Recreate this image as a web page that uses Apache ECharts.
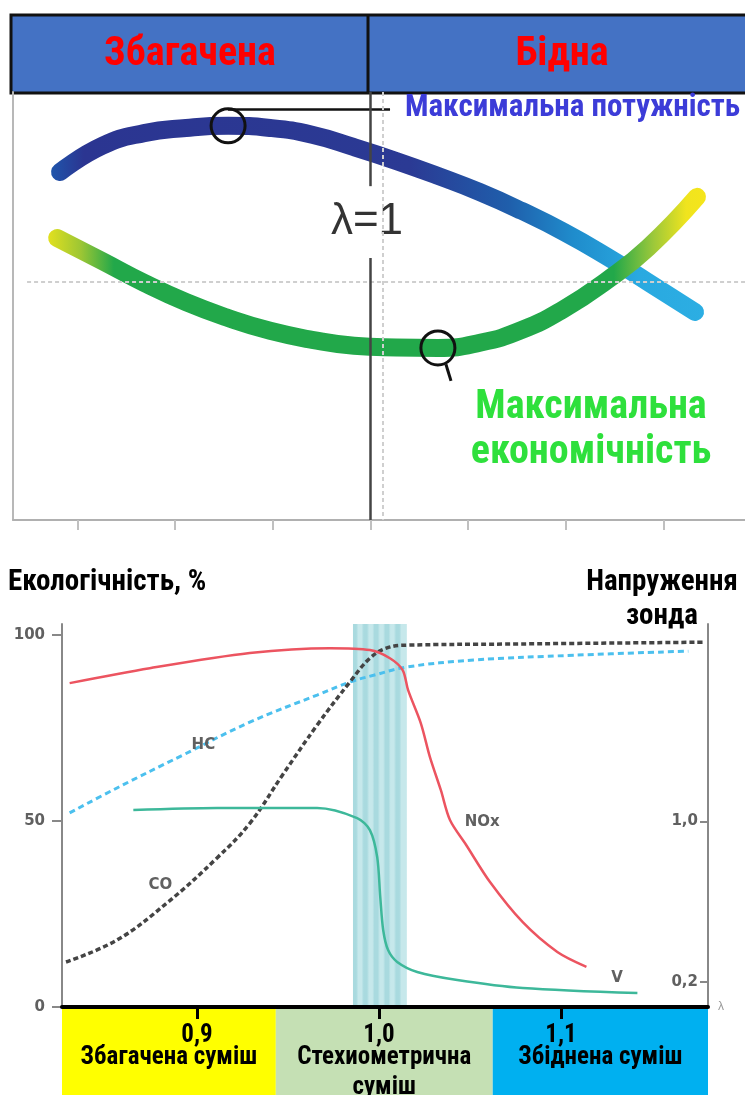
<!DOCTYPE html>
<html>
<head>
<meta charset="utf-8">
<script src="https://cdn.jsdelivr.net/npm/echarts@6/dist/echarts.min.js"></script>
<style>
html, body { margin: 0; padding: 0; background: #fff; }
#main { width: 745px; height: 1095px; }
</style>
</head>
<body>
<div id="main"></div>
<script>
// верхня схема: потужність та економічність залежно від λ
var headerLabels = ['Збагачена', 'Бідна'];
var topTicks = [0.85, 0.9, 0.95, 1.0, 1.05, 1.1, 1.15];
var powerLambda = [0.8411, 0.8626, 0.8841, 0.9056, 0.9271, 0.9486, 0.9701, 0.9916, 1.0131, 1.0345, 1.0560, 1.0775, 1.0990, 1.1205, 1.1420, 1.1661];
var powerValues = [81.3, 87.4, 90.4, 91.6, 92.1, 91.6, 90.0, 87.1, 83.9, 80.4, 76.6, 72.2, 67.3, 61.7, 55.6, 48.6];
var economyLambda = [0.8396, 0.8626, 0.8841, 0.9056, 0.9271, 0.9486, 0.9701, 0.9916, 1.0131, 1.0345, 1.0560, 1.0775, 1.0990, 1.1205, 1.1420, 1.1671];
var economyValues = [65.9, 60.5, 55.4, 50.9, 47.2, 44.2, 42.1, 40.7, 40.3, 40.2, 41.4, 44.4, 49.3, 55.8, 63.6, 75.5];

// нижній графік: екологічність, % та напруження зонда
var lambdaTicks = [0.9, 1.0, 1.1];
var percentTicks = [0, 50, 100];
var voltageTicks = [0.2, 1.0];
var stoichBand = [0.9857, 1.0153];
var zoneNames = ['Збагачена суміш', 'Стехиометрична\nсуміш', 'Збіднена суміш'];
var zoneBounds = [0.8258, 0.9433, 1.0625, 1.1808];

var noxLambda = [0.830, 0.874, 0.929, 0.973, 0.995, 1.006, 1.013, 1.016, 1.023, 1.028, 1.034, 1.039, 1.048, 1.061, 1.079, 1.098, 1.114];
var noxValues = [87.1, 91.1, 95.2, 96.5, 96.0, 93.8, 90.6, 85.2, 76.3, 67.2, 58.3, 50.3, 43.5, 33.6, 22.8, 14.8, 10.8];
var hcLambda = [0.830, 0.856, 0.892, 0.929, 0.966, 0.984, 0.997, 1.015, 1.052, 1.107, 1.170];
var hcValues = [52.2, 58.9, 67.7, 76.6, 83.9, 87.4, 89.2, 91.4, 93.3, 94.6, 95.7];
var coLambda = [0.828, 0.856, 0.884, 0.911, 0.929, 0.947, 0.966, 0.984, 0.995, 1.004, 1.015, 1.070, 1.178];
var coValues = [12.1, 18.0, 28.2, 40.1, 49.4, 62.4, 75.8, 87.4, 93.8, 96.5, 97.3, 97.6, 98.1];
var vLambda = [0.865, 0.911, 0.966, 0.988, 0.995, 0.999, 1.0007, 1.0023, 1.005, 1.010, 1.021, 1.043, 1.079, 1.142];
var vValues = [1.056, 1.066, 1.066, 1.016, 0.956, 0.822, 0.623, 0.459, 0.359, 0.300, 0.250, 0.210, 0.170, 0.145];

function pairs(xs, ys) {
    var res = [];
    for (var i = 0; i < xs.length; i++) {
        res.push([xs[i], ys[i]]);
    }
    return res;
}
function comma(v) {
    return v.toFixed(1).replace('.', ',');
}

var FONT = '"Liberation Sans Narrow", "Roboto Condensed", "Liberation Sans", sans-serif';
var GREY = '#606060';

var myChart = echarts.init(document.getElementById('main'));

// смужки на зоні стехіометрії
var bandStops = [];
for (var i = 0; i <= 9; i++) {
    var c = (i % 2 === 0) ? '#a9dadf' : '#c6e8eb';
    bandStops.push({offset: i / 10, color: c});
    bandStops.push({offset: Math.min(1, (i + 0.6) / 10), color: c});
}

var zoneColors = ['#ffff00', '#c5e0b4', '#00b0f0'];
var zoneAreas = [];
for (var k = 0; k < zoneNames.length; k++) {
    zoneAreas.push([
        {xAxis: zoneBounds[k], name: zoneNames[k], itemStyle: {color: zoneColors[k]}},
        {xAxis: zoneBounds[k + 1]}
    ]);
}

function curveLabel(text, coord) {
    return {
        silent: true, symbol: 'circle', symbolSize: 0,
        label: {show: true, position: 'inside', formatter: text, color: GREY, fontFamily: 'DejaVu Sans', fontWeight: 'bold', fontSize: 15},
        data: [{coord: coord}]
    };
}

var option = {
    animation: false,
    backgroundColor: '#fff',
    grid: [
        {left: 13, top: 92, width: 732, height: 428},
        {left: 62, top: 624, width: 646, height: 383},
        {left: 62, top: 1009, width: 646, height: 86}
    ],
    xAxis: [
        {
            gridIndex: 0, type: 'value', min: 0.817, max: 1.1917,
            axisLine: {show: true, lineStyle: {color: '#b0b0b0', width: 2}},
            axisTick: {show: true, customValues: topTicks, length: 10, lineStyle: {color: '#c0c0c0', width: 2}},
            axisLabel: {show: false},
            splitLine: {show: false}
        },
        {
            gridIndex: 1, type: 'value', min: 0.8258, max: 1.1808, z: 10,
            name: 'λ', nameLocation: 'end', nameGap: 10,
            nameTextStyle: {color: '#999', fontSize: 12, padding: [28, 0, 0, 0]},
            axisLine: {show: true, onZero: false, lineStyle: {color: '#000', width: 4}},
            axisTick: {show: true, customValues: lambdaTicks, length: 12, lineStyle: {color: '#000', width: 3}},
            axisLabel: {
                customValues: lambdaTicks, margin: 16, color: '#000',
                fontFamily: FONT, fontWeight: 'bold', fontSize: 25,
                formatter: function (v) { return comma(v); }
            },
            splitLine: {show: false}
        },
        {
            gridIndex: 2, type: 'value', min: 0.8258, max: 1.1808, show: false
        }
    ],
    yAxis: [
        {
            gridIndex: 0, type: 'value', min: 0, max: 100,
            axisLine: {show: true, lineStyle: {color: '#b8b8b8', width: 2}},
            axisTick: {show: false}, axisLabel: {show: false}, splitLine: {show: false}
        },
        {
            gridIndex: 1, type: 'value', min: 0, max: 103,
            axisLine: {show: true, lineStyle: {color: '#888', width: 2}},
            axisTick: {show: true, customValues: percentTicks, length: 10, lineStyle: {color: '#888', width: 2}},
            axisLabel: {
                customValues: percentTicks, margin: 17, color: GREY,
                fontFamily: 'DejaVu Sans', fontWeight: 'bold', fontSize: 15
            },
            splitLine: {show: false}
        },
        {
            gridIndex: 1, type: 'value', position: 'right', min: 0.0756, max: 1.982,
            axisLine: {show: true, lineStyle: {color: '#888', width: 2}},
            axisTick: {show: true, inside: true, customValues: voltageTicks, length: 8, lineStyle: {color: '#888', width: 2}},
            axisLabel: {
                inside: true, customValues: voltageTicks, margin: 10, color: GREY,
                fontFamily: 'DejaVu Sans', fontWeight: 'bold', fontSize: 15,
                formatter: function (v) { return comma(v); }
            },
            splitLine: {show: false}
        },
        {
            gridIndex: 2, type: 'value', min: 0, max: 1, show: false
        }
    ],
    graphic: [
        {type: 'rect', shape: {x: 11, y: 15, width: 740, height: 78}, style: {fill: '#4472c4', stroke: '#111', lineWidth: 3}},
        {type: 'line', shape: {x1: 368, y1: 15, x2: 368, y2: 93}, style: {stroke: '#111', lineWidth: 3}},
        {type: 'text', x: 190, y: 55, style: {text: headerLabels[0], fill: '#ff0000', align: 'center', verticalAlign: 'middle', font: 'bold 40px ' + FONT}},
        {type: 'text', x: 562, y: 55, style: {text: headerLabels[1], fill: '#ff0000', align: 'center', verticalAlign: 'middle', font: 'bold 40px ' + FONT}},
        {type: 'text', x: 367, y: 222, style: {text: 'λ=1', fill: '#333', align: 'center', verticalAlign: 'middle', font: '44px "Liberation Sans", Arial, sans-serif'}},
        {type: 'text', x: 405, y: 108, style: {text: 'Максимальна потужність', fill: '#3c3cd8', align: 'left', verticalAlign: 'middle', font: 'bold 31px ' + FONT}},
        {type: 'text', x: 591, y: 430, style: {text: 'Максимальна\nекономічність', fill: '#2ee03c', align: 'center', verticalAlign: 'middle', lineHeight: 45, font: 'bold 40px ' + FONT}},
        {type: 'text', x: 8, y: 583, style: {text: 'Екологічність, %', fill: '#000', align: 'left', verticalAlign: 'middle', font: 'bold 29px ' + FONT}},
        {type: 'text', x: 662, y: 600, style: {text: 'Напруження\nзонда', fill: '#000', align: 'center', verticalAlign: 'middle', lineHeight: 34, font: 'bold 29px ' + FONT}}
    ],
    series: [
        {
            name: 'Максимальна потужність',
            type: 'line', xAxisIndex: 0, yAxisIndex: 0,
            data: pairs(powerLambda, powerValues),
            smooth: 0.5, symbol: 'none', z: 3,
            lineStyle: {
                width: 18, cap: 'round',
                color: new echarts.graphic.LinearGradient(0, 0, 1, 0, [
                    {offset: 0, color: '#1f55ab'},
                    {offset: 0.05, color: '#2b3591'},
                    {offset: 0.55, color: '#2b3a94'},
                    {offset: 0.7, color: '#1f5eab'},
                    {offset: 0.8, color: '#1f8ccc'},
                    {offset: 0.9, color: '#29a9e0'},
                    {offset: 1, color: '#2caee3'}
                ])
            },
            markPoint: {
                silent: true, symbol: 'circle', symbolSize: 34,
                itemStyle: {color: 'rgba(0,0,0,0)', borderColor: '#111', borderWidth: 3},
                label: {show: false},
                data: [{type: 'max'}]
            },
            markLine: {
                silent: true, symbol: 'none', label: {show: false},
                lineStyle: {color: '#111', width: 2.5, type: 'solid'},
                data: [[{coord: [0.927, 96.0]}, {coord: [1.010, 96.0]}]]
            }
        },
        {
            name: 'Максимальна економічність',
            type: 'line', xAxisIndex: 0, yAxisIndex: 0,
            data: pairs(economyLambda, economyValues),
            smooth: 0.5, symbol: 'none', z: 4,
            lineStyle: {
                width: 18, cap: 'round',
                color: new echarts.graphic.LinearGradient(0, 0, 1, 0, [
                    {offset: 0, color: '#e2e01f'},
                    {offset: 0.05, color: '#9cc634'},
                    {offset: 0.1, color: '#22a84a'},
                    {offset: 0.86, color: '#22a84a'},
                    {offset: 0.92, color: '#9cc83a'},
                    {offset: 0.97, color: '#f0e41e'},
                    {offset: 1, color: '#f5e51b'}
                ])
            },
            markPoint: {
                silent: true, symbol: 'circle', symbolSize: 34,
                itemStyle: {color: 'rgba(0,0,0,0)', borderColor: '#111', borderWidth: 3},
                label: {show: false},
                data: [{type: 'min'}]
            },
            markLine: {
                silent: true, symbol: 'none', label: {show: false},
                lineStyle: {color: '#111', width: 3, type: 'solid'},
                data: [[{coord: [1.0386, 36.4]}, {coord: [1.0412, 32.5]}]]
            }
        },
        {
            name: 'guides',
            type: 'line', xAxisIndex: 0, yAxisIndex: 0, data: [], z: 1,
            markLine: {
                silent: true, symbol: 'none', label: {show: false},
                data: [
                    [{coord: [0.8242, 55.6], lineStyle: {color: '#cfcfcf', width: 2, type: [4, 3]}}, {coord: [1.1917, 55.6]}],
                    [{coord: [1.0064, 100], lineStyle: {color: '#cfcfcf', width: 2, type: [4, 3]}}, {coord: [1.0064, 0]}],
                    [{coord: [1.0, 100], lineStyle: {color: '#444', width: 2.5, type: 'solid'}}, {coord: [1.0, 78]}],
                    [{coord: [1.0, 61.2], lineStyle: {color: '#444', width: 2.5, type: 'solid'}}, {coord: [1.0, 0]}]
                ]
            }
        },
        {
            name: 'band',
            type: 'line', xAxisIndex: 1, yAxisIndex: 1, data: [], z: 1,
            markArea: {
                silent: true,
                itemStyle: {color: new echarts.graphic.LinearGradient(0, 0, 1, 0, bandStops)},
                data: [[{xAxis: stoichBand[0]}, {xAxis: stoichBand[1]}]]
            }
        },
        {
            name: 'HC', type: 'line', xAxisIndex: 1, yAxisIndex: 1,
            data: pairs(hcLambda, hcValues), smooth: 0.4, symbol: 'none', z: 3,
            lineStyle: {color: '#4cc0ee', width: 3, type: [6, 4]},
            markPoint: curveLabel('HC', [0.9035, 70.4])
        },
        {
            name: 'CO', type: 'line', xAxisIndex: 1, yAxisIndex: 1,
            data: pairs(coLambda, coValues), smooth: 0.4, symbol: 'none', z: 3,
            lineStyle: {color: '#444', width: 3.5, type: [5, 3]},
            markPoint: curveLabel('CO', [0.8799, 32.8])
        },
        {
            name: 'NOx', type: 'line', xAxisIndex: 1, yAxisIndex: 1,
            data: pairs(noxLambda, noxValues), smooth: 0.3, symbol: 'none', z: 4,
            lineStyle: {color: '#ec5460', width: 2.5},
            markPoint: curveLabel('NOx', [1.0567, 49.7])
        },
        {
            name: 'V', type: 'line', xAxisIndex: 1, yAxisIndex: 2,
            data: pairs(vLambda, vValues), smooth: 0.3, symbol: 'none', z: 4,
            lineStyle: {color: '#3db89a', width: 2.5},
            markPoint: curveLabel('V', [1.1308, 0.22])
        },
        {
            name: 'zones', type: 'line', xAxisIndex: 2, yAxisIndex: 3, data: [], z: 1,
            markArea: {
                silent: true,
                label: {
                    show: true, position: 'insideTop', distance: 34, color: '#000',
                    fontFamily: FONT, fontWeight: 'bold', fontSize: 25, lineHeight: 30
                },
                data: zoneAreas
            }
        }
    ]
};

myChart.setOption(option);
window.addEventListener('resize', function () {
    myChart.resize();
});
</script>
</body>
</html>
